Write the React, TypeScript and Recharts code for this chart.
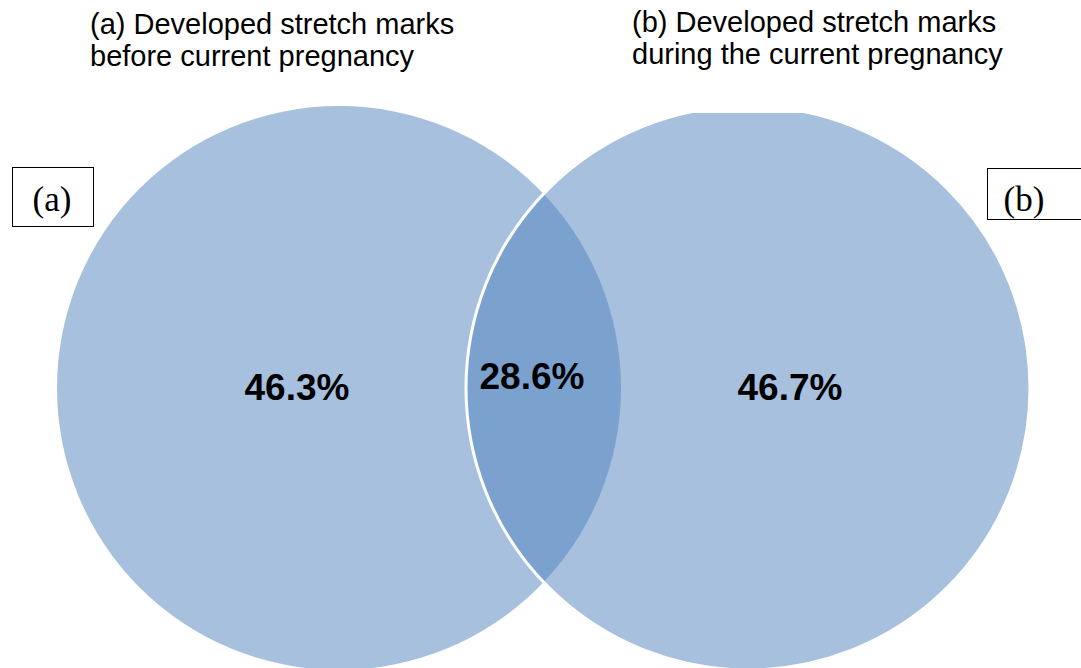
import React from "react";
import { ScatterChart, Scatter, XAxis, YAxis } from "recharts";

// set names and titles
const setNames = ["(a)", "(b)"];
const setTitles = [
  ["(a) Developed stretch marks", "before current pregnancy"],
  ["(b) Developed stretch marks", "during the current pregnancy"],
];

// shares (%): only (a), both, only (b)
const shareLabels = ["46.3%", "28.6%", "46.7%"];
const shareValues = [46.3, 28.6, 46.7];

const W = 1081;
const H = 668;
const FILL = "#4F81BD";

// layout (plot units == pixels, see axis domains)
const circleLayout = [
  { x: 339, y: 388, r: 282, stroke: "none", clipTop: 0 },
  { x: 748, y: 388, r: 282, stroke: "#FFFFFF", clipTop: 113 },
];
const labelLayout = [
  { x: 297, y: 400 },
  { x: 532, y: 389 },
  { x: 790, y: 400 },
];

const circleData = circleLayout.map((c, i) => ({ ...c, name: setNames[i] }));
const labelData = labelLayout.map((p, i) => ({
  ...p,
  label: shareLabels[i],
  value: shareValues[i],
}));

// 1 unit on the x domain -> px
const unit = W / W;

const CircleShape = (props: any) => {
  const { cx, cy, payload, index } = props;
  const r = payload.r * unit;
  const clipId = `venn-clip-${index}`;
  return (
    <g>
      {payload.clipTop > 0 && (
        <defs>
          <clipPath id={clipId}>
            <rect x={0} y={payload.clipTop} width={W} height={H} />
          </clipPath>
        </defs>
      )}
      <circle
        cx={cx}
        cy={cy}
        r={r}
        fill={FILL}
        fillOpacity={0.5}
        stroke={payload.stroke}
        strokeWidth={3}
        clipPath={payload.clipTop > 0 ? `url(#${clipId})` : undefined}
      />
    </g>
  );
};

const LabelShape = (props: any) => {
  const { cx, cy, payload } = props;
  return (
    <text
      x={cx}
      y={cy}
      textAnchor="middle"
      fontFamily="'Liberation Sans', Arial, sans-serif"
      fontWeight="bold"
      fontSize={37}
      fill="#000"
    >
      {payload.label}
    </text>
  );
};

export default function App() {
  return (
    <div style={{ position: "absolute", left: 0, top: 0, width: W, height: H, background: "#fff" }}>
      <ScatterChart width={W} height={H} margin={{ top: 0, right: 0, bottom: 0, left: 0 }}>
        <XAxis type="number" dataKey="x" domain={[0, W]} allowDataOverflow hide />
        <YAxis type="number" dataKey="y" domain={[0, H]} allowDataOverflow reversed hide />
        <Scatter data={circleData} shape={CircleShape} isAnimationActive={false} />
        <Scatter data={labelData} shape={LabelShape} isAnimationActive={false} />
      </ScatterChart>
      <svg
        width={W}
        height={H}
        style={{ position: "absolute", left: 0, top: 0, pointerEvents: "none" }}
      >
        <g fontFamily="'Liberation Sans', Arial, sans-serif" fontSize={29} fill="#000">
          <text x={90} y={34}>{setTitles[0][0]}</text>
          <text x={90} y={66}>{setTitles[0][1]}</text>
          <text x={632} y={32}>{setTitles[1][0]}</text>
          <text x={632} y={64}>{setTitles[1][1]}</text>
        </g>
        <rect x={12.5} y={167.5} width={81} height={59} fill="#fff" stroke="#000" strokeWidth={1} />
        <rect x={987.5} y={168.5} width={100} height={51} fill="#fff" stroke="#000" strokeWidth={1} />
        <g fontFamily="'Liberation Serif', 'Times New Roman', serif" fontSize={35} fill="#000" textAnchor="middle">
          <text x={52} y={211}>{setNames[0]}</text>
          <text x={1024} y={211}>{setNames[1]}</text>
        </g>
      </svg>
    </div>
  );
}
